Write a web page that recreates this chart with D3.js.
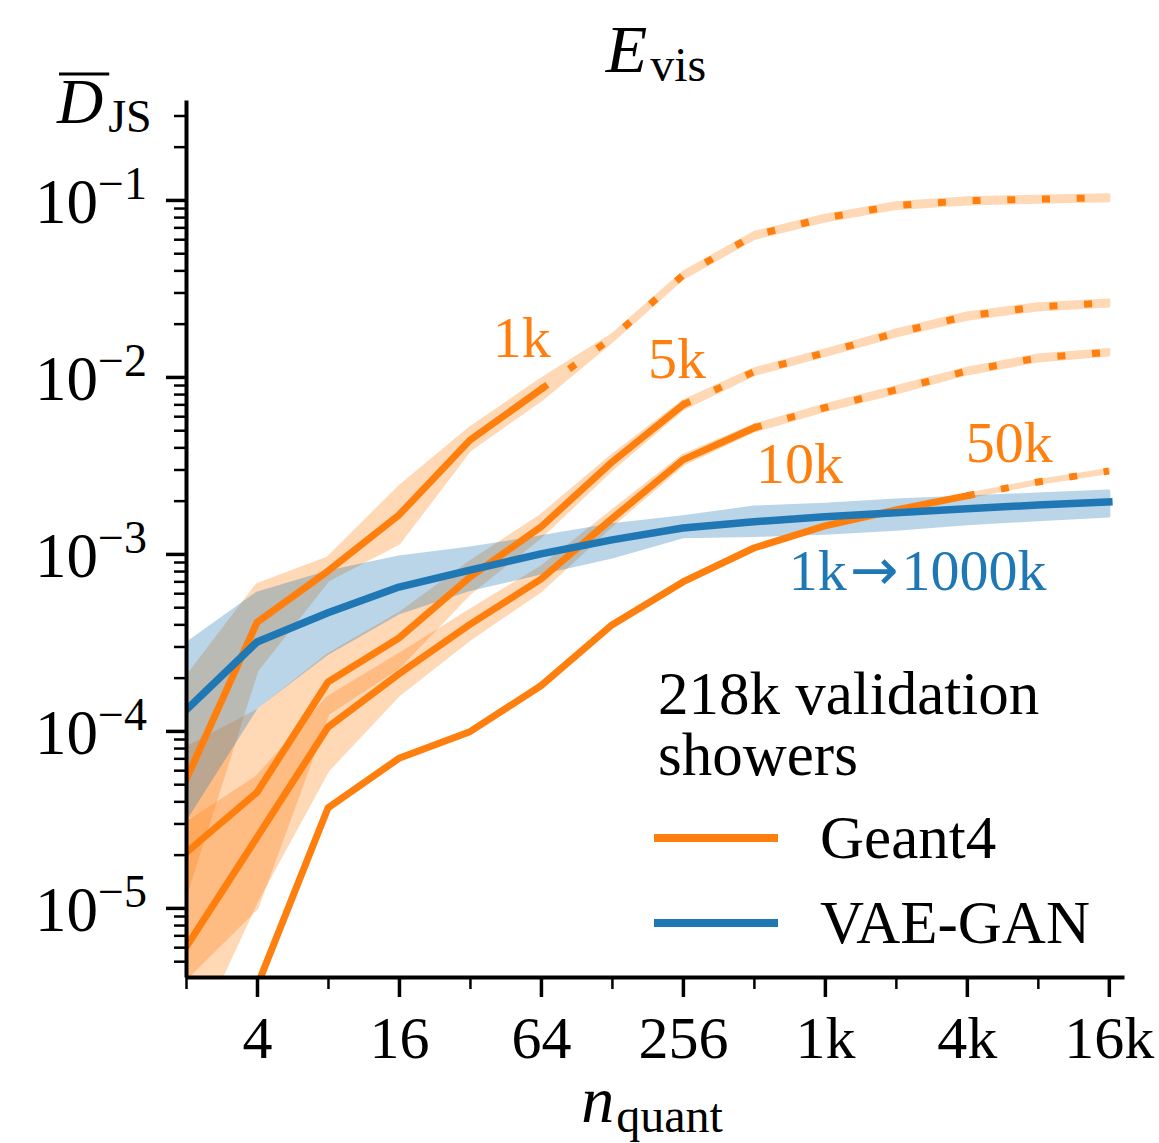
<!DOCTYPE html>
<html>
<head>
<meta charset="utf-8">
<script src="https://cdnjs.cloudflare.com/ajax/libs/d3/7.8.5/d3.min.js"></script>
<style>
  body { margin: 0; background: #fff; }
  svg { display: block; font-family: 'Liberation Serif', 'DejaVu Serif', serif; }
</style>
</head>
<body>
<div id="chart"></div>
<script>
const nQuant = [2, 4, 8, 16, 32, 64, 128, 256, 512, 1024, 2048, 4096, 8192, 16384];

const xMajor = [4, 16, 64, 256, 1024, 4096, 16384];
const xMajorLabels = ['4', '16', '64', '256', '1k', '4k', '16k'];
const xMinor = [2, 8, 32, 128, 512, 2048, 8192];
const yMajor = [1e-1, 1e-2, 1e-3, 1e-4, 1e-5];

const g1k   = [5.3e-5, 4.1e-4, 8.0e-4, 1.66e-3, 4.4e-3, 8.5e-3, 1.66e-2, 3.75e-2, 6.3e-2, 7.9e-2, 9.3e-2, 9.9e-2, 1.01e-1, 1.03e-1];
const g1kLo = [1.2e-5, 2.2e-4, 7.1e-4, 1.15e-3, 3.87e-3, 7.4e-3, 1.59e-2, 3.6e-2, 6.05e-2, 7.6e-2, 8.95e-2, 9.5e-2, 9.7e-2, 9.9e-2];
const g1kHi = [2.0e-4, 6.7e-4, 9.5e-4, 2.39e-3, 5.15e-3, 9.7e-3, 1.73e-2, 3.9e-2, 6.55e-2, 8.2e-2, 9.65e-2, 1.03e-1, 1.05e-1, 1.07e-1];

const g5k   = [2.05e-5, 4.5e-5, 1.89e-4, 3.35e-4, 7.4e-4, 1.42e-3, 3.3e-3, 6.95e-3, 1.07e-2, 1.37e-2, 1.77e-2, 2.21e-2, 2.49e-2, 2.62e-2];
const g5kLo = [4.0e-6, 1.0e-5, 1.25e-4, 2.3e-4, 6.0e-4, 1.25e-3, 3.0e-3, 6.6e-3, 1.03e-2, 1.32e-2, 1.7e-2, 2.12e-2, 2.39e-2, 2.52e-2];
const g5kHi = [8.0e-5, 1.3e-4, 2.7e-4, 4.6e-4, 9.0e-4, 1.65e-3, 3.6e-3, 7.3e-3, 1.11e-2, 1.42e-2, 1.84e-2, 2.3e-2, 2.59e-2, 2.72e-2];

const g10k   = [6.0e-6, 2.5e-5, 1.05e-4, 2.1e-4, 4.0e-4, 7.2e-4, 1.58e-3, 3.4e-3, 5.15e-3, 6.7e-3, 8.45e-3, 1.08e-2, 1.28e-2, 1.38e-2];
const g10kLo = [1.5e-6, 1.1e-5, 6.0e-5, 1.6e-4, 3.3e-4, 6.2e-4, 1.45e-3, 3.2e-3, 4.95e-3, 6.45e-3, 8.1e-3, 1.04e-2, 1.23e-2, 1.33e-2];
const g10kHi = [3.0e-5, 5.5e-5, 1.55e-4, 2.7e-4, 4.8e-4, 8.4e-4, 1.75e-3, 3.6e-3, 5.35e-3, 6.95e-3, 8.8e-3, 1.12e-2, 1.33e-2, 1.43e-2];

const g50k   = [5.0e-7, 3.6e-6, 3.67e-5, 7.0e-5, 9.9e-5, 1.8e-4, 3.97e-4, 6.95e-4, 1.08e-3, 1.44e-3, 1.77e-3, 2.13e-3, 2.55e-3, 2.94e-3];
const g50kLo = [4.9e-7, 3.5e-6, 3.6e-5, 6.85e-5, 9.7e-5, 1.76e-4, 3.9e-4, 6.8e-4, 1.06e-3, 1.41e-3, 1.74e-3, 2.09e-3, 2.5e-3, 2.88e-3];
const g50kHi = [5.1e-7, 3.7e-6, 3.75e-5, 7.15e-5, 1.01e-4, 1.84e-4, 4.05e-4, 7.1e-4, 1.1e-3, 1.47e-3, 1.8e-3, 2.17e-3, 2.6e-3, 3.0e-3];

const vae   = [1.31e-4, 3.18e-4, 4.65e-4, 6.5e-4, 8.1e-4, 1.0e-3, 1.2e-3, 1.4e-3, 1.52e-3, 1.62e-3, 1.71e-3, 1.8e-3, 1.89e-3, 1.97e-3];
const vaeLo = [3.2e-5, 1.37e-4, 2.75e-4, 4.65e-4, 6.3e-4, 7.8e-4, 9.6e-4, 1.25e-3, 1.27e-3, 1.31e-3, 1.38e-3, 1.48e-3, 1.56e-3, 1.64e-3];
const vaeHi = [3.1e-4, 6.0e-4, 7.9e-4, 9.6e-4, 1.08e-3, 1.25e-3, 1.46e-3, 1.62e-3, 1.84e-3, 1.91e-3, 2.02e-3, 2.1e-3, 2.18e-3, 2.27e-3];

// sample sizes of the Geant4 curves, and last n_quant drawn solid
const geantLabels = ['1k', '5k', '10k', '50k'];
const geantSolidTo = [64, 256, 512, 4096];

const orange = '#ff7f0e',
      blue = '#1f77b4';

const w = 1159,
      h = 1143,
      margin = { left: 186, right: 35, top: 100, bottom: 166 };

const svg = d3.select('#chart')
              .append('svg')
              .attr('width', w)
              .attr('height', h);

const xScale = d3.scaleLog()
                 .base(2)
                 .domain([2, 19000])
                 .range([margin.left, w - margin.right]);

const yScale = d3.scaleLog()
                 .domain([4.07e-6, 0.367])
                 .range([h - margin.bottom, margin.top]);

svg.append('clipPath')
   .attr('id', 'plot-clip')
   .append('rect')
   .attr('x', margin.left)
   .attr('y', margin.top)
   .attr('width', w - margin.left - margin.right)
   .attr('height', h - margin.top - margin.bottom);

const plot = svg.append('g').attr('clip-path', 'url(#plot-clip)');

const band = d3.area()
               .x((d, i) => xScale(nQuant[i]))
               .y0(d => yScale(d[0]))
               .y1(d => yScale(d[1]));

const line = d3.line()
               .x(d => xScale(d[0]))
               .y(d => yScale(d[1]));

const geant = [
  { mean: g1k, lo: g1kLo, hi: g1kHi },
  { mean: g5k, lo: g5kLo, hi: g5kHi },
  { mean: g10k, lo: g10kLo, hi: g10kHi },
  { mean: g50k, lo: g50kLo, hi: g50kHi }
];
geant.forEach((s, i) => { s.label = geantLabels[i]; s.solidTo = geantSolidTo[i]; });

function drawBand(lo, hi, color) {
  plot.append('g')
      .attr('opacity', 0.3)
      .append('path')
      .datum(d3.zip(lo, hi))
      .attr('d', band)
      .attr('fill', color)
      .attr('stroke', color)
      .attr('stroke-width', 3)
      .attr('stroke-linejoin', 'round');
}

geant.forEach(s => drawBand(s.lo, s.hi, orange));
drawBand(vaeLo, vaeHi, blue);

geant.forEach(s => {
  const pts = d3.zip(nQuant, s.mean),
        k = nQuant.indexOf(s.solidTo);

  plot.append('path')
      .datum(pts.slice(0, k + 1))
      .attr('d', line)
      .attr('fill', 'none')
      .attr('stroke', orange)
      .attr('stroke-width', 7)
      .attr('stroke-linejoin', 'round')
      .attr('stroke-linecap', 'square');

  plot.append('path')
      .datum(pts.slice(k))
      .attr('d', line)
      .attr('fill', 'none')
      .attr('stroke', orange)
      .attr('stroke-width', 7)
      .attr('stroke-dasharray', '8 26.7');
});

plot.append('path')
    .datum(d3.zip(nQuant, vae))
    .attr('d', line)
    .attr('fill', 'none')
    .attr('stroke', blue)
    .attr('stroke-width', 7.5)
    .attr('stroke-linejoin', 'round')
    .attr('stroke-linecap', 'square');

// axes
const yMinor = [];
for (let e = -6; e <= -1; e++) {
  for (let m = 2; m <= 9; m++) {
    const v = m * Math.pow(10, e);
    if (v >= 4.1e-6 && v <= 0.367) yMinor.push(v);
  }
}

const yAxisMinor = svg.append('g')
   .attr('transform', `translate(${margin.left}, 0)`)
   .call(d3.axisLeft(yScale).tickValues(yMinor).tickSize(12).tickSizeOuter(0).tickFormat(''));

const yAxis = svg.append('g')
   .attr('id', 'y-axis')
   .attr('transform', `translate(${margin.left}, 0)`)
   .call(d3.axisLeft(yScale).tickValues(yMajor).tickSize(20).tickSizeOuter(0).tickPadding(19));

const xAxisMinor = svg.append('g')
   .attr('transform', `translate(0, ${h - margin.bottom})`)
   .call(d3.axisBottom(xScale).tickValues(xMinor).tickSize(12).tickSizeOuter(0).tickFormat(''));

const xAxis = svg.append('g')
   .attr('id', 'x-axis')
   .attr('transform', `translate(0, ${h - margin.bottom})`)
   .call(d3.axisBottom(xScale)
           .tickValues(xMajor)
           .tickSize(20)
           .tickSizeOuter(0)
           .tickPadding(18)
           .tickFormat((d, i) => xMajorLabels[i]));

[yAxisMinor, xAxisMinor].forEach(g => {
  g.select('.domain').remove();
  g.selectAll('.tick line').attr('stroke', '#000').attr('stroke-width', 2.5);
});

[yAxis, xAxis].forEach(g => {
  g.attr('font-family', null).attr('font-size', 60);
  g.select('.domain').attr('stroke', '#000').attr('stroke-width', 4);
  g.selectAll('.tick line').attr('stroke', '#000').attr('stroke-width', 3.5);
  g.selectAll('.tick text').attr('fill', '#000');
});

yAxis.selectAll('.tick text')
     .attr('dy', '0.36em')
     .attr('font-size', 63)
     .each(function(d) {
       const t = d3.select(this).text('');
       t.append('tspan').text('10');
       t.append('tspan')
        .attr('dy', -24)
        .attr('font-size', 46)
        .text('\u2212' + Math.round(-Math.log10(d)));
     });

// titles
const title = svg.append('text')
                 .attr('x', 656)
                 .attr('y', 72)
                 .attr('text-anchor', 'middle')
                 .attr('font-size', 68);
title.append('tspan').attr('font-style', 'italic').text('E');
title.append('tspan').attr('font-size', 48).attr('dx', 3).attr('dy', 9).text('vis');

const xLabel = svg.append('text')
                  .attr('x', 652)
                  .attr('y', 1122)
                  .attr('text-anchor', 'middle')
                  .attr('font-size', 66);
xLabel.append('tspan').attr('font-style', 'italic').text('n');
xLabel.append('tspan').attr('font-size', 48).attr('dx', 2).attr('dy', 10).text('quant');

const yLabel = svg.append('text')
                  .attr('x', 57)
                  .attr('y', 123)
                  .attr('font-size', 64);
yLabel.append('tspan').attr('font-style', 'italic').text('D');
yLabel.append('tspan').attr('font-size', 46).attr('dx', 5).attr('dy', 9).text('JS');

const dBox = yLabel.node().getExtentOfChar(0);
svg.append('line')
   .attr('x1', dBox.x + 2)
   .attr('x2', dBox.x + dBox.width + 6)
   .attr('y1', 74)
   .attr('y2', 74)
   .attr('stroke', '#000')
   .attr('stroke-width', 3);

// curve labels, placed in data coordinates
const curveLabels = [
  { text: '1k', n: 40, v: 1.3e-2, color: orange },
  { text: '5k', n: 182, v: 9.87e-3, color: orange },
  { text: '10k', n: 522, v: 2.52e-3, color: orange },
  { text: '50k', n: 4050, v: 3.31e-3, color: orange },
  { text: '1k\u20091000k', n: 720, v: 6.26e-4, color: blue }
];

const labels = svg.selectAll('text.curve-label')
   .data(curveLabels)
   .enter()
   .append('text')
   .attr('class', 'curve-label')
   .attr('x', d => xScale(d.n))
   .attr('y', d => yScale(d.v))
   .attr('font-size', 58)
   .attr('fill', d => d.color);

labels.each(function(d) {
  const t = d3.select(this),
        parts = d.text.split('\u2009');
  t.append('tspan').text(parts[0]);
  if (parts.length > 1) {
    t.append('tspan')
     .attr('font-family', 'DejaVu Sans')
     .attr('font-size', 58)
     .attr('dx', 3)
     .text('\u2192');
    t.append('tspan').attr('dx', 3).text(parts[1]);
  }
});

// legend
const legend = svg.append('g').attr('font-size', 61);

legend.append('text').attr('x', 658).attr('y', 714).text('218k validation');
legend.append('text').attr('x', 658).attr('y', 775).text('showers');

[['Geant4', orange, 838], ['VAE-GAN', blue, 923]].forEach(([name, color, y]) => {
  legend.append('line')
        .attr('x1', 654)
        .attr('x2', 778)
        .attr('y1', y)
        .attr('y2', y)
        .attr('stroke', color)
        .attr('stroke-width', 8);
  legend.append('text')
        .attr('x', 820)
        .attr('y', y + 20)
        .text(name);
});
</script>
</body>
</html>
